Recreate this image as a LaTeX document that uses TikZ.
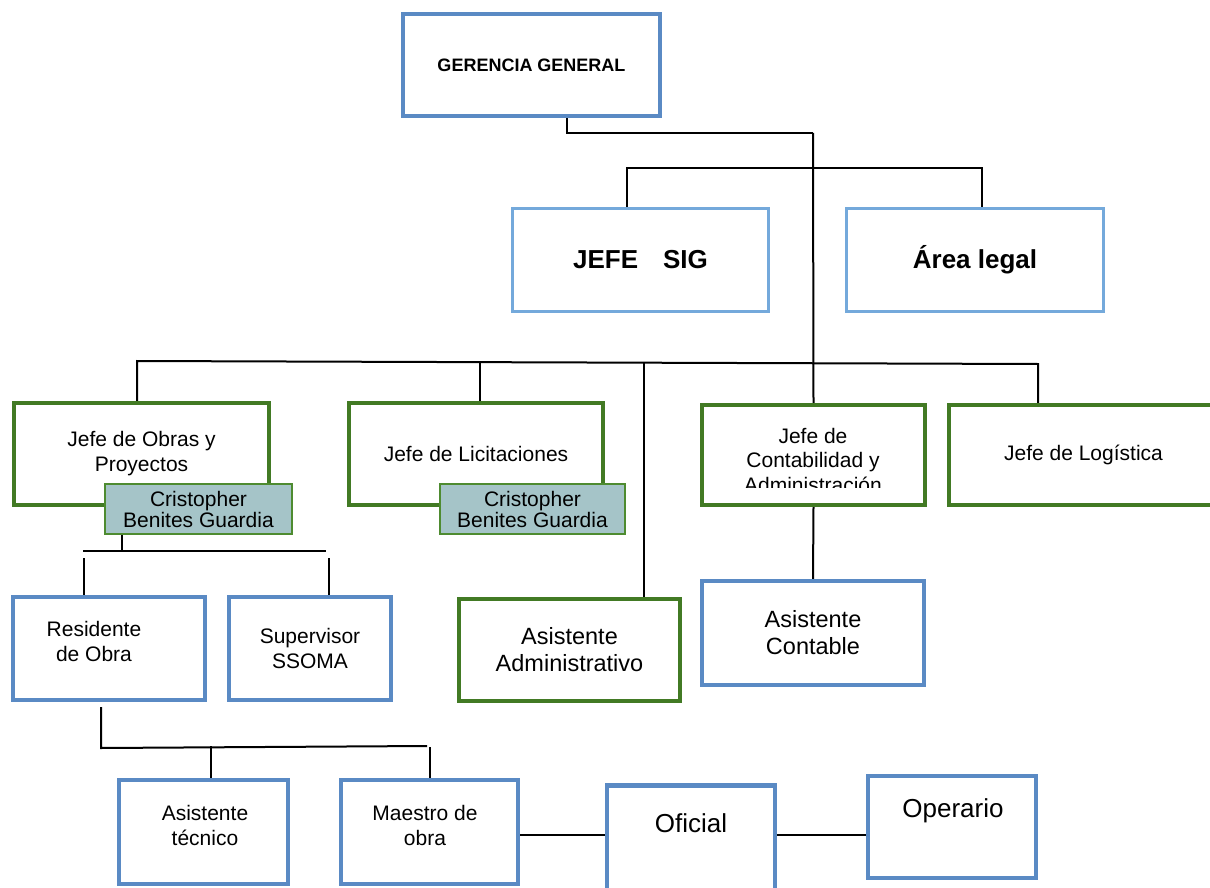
\documentclass[tikz,border=0pt]{standalone}
\usepackage{fontspec}
\setmainfont{Liberation Sans}
\usetikzlibrary{positioning, calc}
\usepackage{xcolor}
\definecolor{GerBlue}{HTML}{5A8AC4}
\definecolor{SigBlue}{HTML}{74A9DB}
\definecolor{JefeGreen}{HTML}{427A24}
\definecolor{NameTeal}{HTML}{A5C4C8}
\definecolor{NameGreen}{HTML}{4E8B30}

\begin{document}
\begin{tikzpicture}[x=1pt, y=-1pt,
    every node/.style={inner sep=0pt, align=center},
    gerbox/.style={draw=GerBlue, line width=4.2pt, font=\fontsize{18}{21}\selectfont\bfseries},
    sigbox/.style={draw=SigBlue, line width=2.6pt, font=\fontsize{26}{30}\selectfont\bfseries},
    jefebox/.style={draw=JefeGreen, line width=4.2pt, font=\fontsize{21}{25}\selectfont},
    namebox/.style={draw=NameGreen, fill=NameTeal, line width=1.8pt, font=\fontsize{21}{21}\selectfont},
    cargobox/.style={draw=GerBlue, line width=4.2pt, font=\fontsize{21}{25}\selectfont},
    cargotxt/.style={font=\fontsize{21}{25}\selectfont},
    bigtxt/.style={font=\fontsize{23.5}{27}\selectfont},
    hugetxt/.style={font=\fontsize{26}{30}\selectfont},
    conn/.style={draw=black, line width=2pt}
]

\useasboundingbox (0,0) rectangle (1210,888);
\clip (0,0) rectangle (1210,888);
\fill[white] (0,0) rectangle (1210,888);

% =============================================
% TOP: Gerencia, SIG and legal
% =============================================
\node[gerbox, minimum width=257pt, minimum height=102pt] (gg) at (531.5,65) {GERENCIA GENERAL};
\node[sigbox, minimum width=256pt, minimum height=103pt] (sig) at (640.5,260) {JEFE\hspace{25pt}SIG};
\node[sigbox, minimum width=257pt, minimum height=103pt] (legal) at (975,260) {Área legal};

% =============================================
% MIDDLE ROW: jefes (green)
% =============================================
\node[jefebox, minimum width=255pt, minimum height=102pt] (obras) at (141.5,454) {Jefe de Obras y\\Proyectos};
\node[jefebox, minimum width=254pt, minimum height=102pt] (licit) at (476,454) {Jefe de Licitaciones};
\node[jefebox, minimum width=223pt, minimum height=100pt] (conta) at (813.5,455) {};
\node[jefebox, minimum width=269pt, minimum height=100pt] (logis) at (1083.5,455) {Jefe de Logística};

% text of Contabilidad is cut by its box
\begin{scope}
  \clip (702,405) rectangle (925,487);
  \node[cargotxt, font=\fontsize{21}{24.5}\selectfont] (contatxt) at (813,460) {Jefe de\\Contabilidad y\\Administración};
\end{scope}

\node[namebox, minimum width=187pt, minimum height=50pt] (crist1) at (198.5,509) {Cristopher\\Benites Guardia};
\node[namebox, minimum width=185pt, minimum height=50pt] (crist2) at (532.5,509) {Cristopher\\Benites Guardia};

% =============================================
% LOWER ROW
% =============================================
\node[cargobox, minimum width=192pt, minimum height=103pt] (resid) at (109,648.5) {};
\node[cargotxt] (residtxt) at (94,641) {Residente\\de Obra};
\node[cargobox, minimum width=162pt, minimum height=103pt] (super) at (310,648.5) {Supervisor\\SSOMA};
\node[jefebox, bigtxt, minimum width=221pt, minimum height=102pt] (asadm) at (569.5,650) {Asistente\\Administrativo};
\node[cargobox, bigtxt, minimum width=222pt, minimum height=104pt] (ascon) at (813,633) {Asistente\\Contable};

% BOTTOM ROW: obra
\node[cargobox, minimum width=169pt, minimum height=104pt] (astec) at (203.5,832) {};
\node[cargotxt] (astectxt) at (205,825) {Asistente\\técnico};
\node[cargobox, minimum width=177pt, minimum height=104pt] (maestro) at (429.5,832) {};
\node[cargotxt] (maestrotxt) at (425,825) {Maestro de\\obra};
\node[cargobox, minimum width=168pt, minimum height=123pt] (oficial) at (691,847) {};
\node[hugetxt] (oficialtxt) at (691,823) {Oficial};
\node[cargobox, minimum width=168pt, minimum height=102pt] (operario) at (952,827) {};
\node[hugetxt] (operariotxt) at (953,811) {Operario};

% =============================================
% CONNECTORS
% =============================================
\draw[conn] ([xshift=35.5pt]gg.south) |- (813,133) coordinate (spine);
\draw[conn] (spine) -- (conta.north);
\draw[conn] ([xshift=-13.5pt]sig.north) -- ++(0,-39) -| ([xshift=7pt]legal.north);

% main bar
\draw[conn] ([xshift=-4.5pt]obras.north) -- (137,361) -- (1038,364) -- ([xshift=-45.5pt]logis.north);
\draw[conn] ([xshift=4pt]licit.north) -- (480,362);
\draw[conn] ([xshift=74.5pt]asadm.north) -- (644,363);
\draw[conn] (conta.south) -- (ascon.north);

% obras team
\draw[conn] ([xshift=-76.5pt]crist1.south) -- ++(0,16);
\draw[conn] (83,551) -- (326,551);
\draw[conn] ([xshift=-25pt]resid.north) -- ++(0,-37);
\draw[conn] ([xshift=19pt]super.north) -- ++(0,-37);

% residente team
\draw[conn] ([xshift=-8pt, yshift=-5pt]resid.south) -- (101,748) -- (427,746);
\draw[conn] ([xshift=7.5pt]astec.north) -- ++(0,-32);
\draw[conn] (maestro.north) -- ++(0,-31);
\draw[conn] ([yshift=-3pt]maestro.east) -- ++(85,0);
\draw[conn] ([yshift=12pt]oficial.east) -- ([yshift=-8pt]operario.west);

\end{tikzpicture}
\end{document}
